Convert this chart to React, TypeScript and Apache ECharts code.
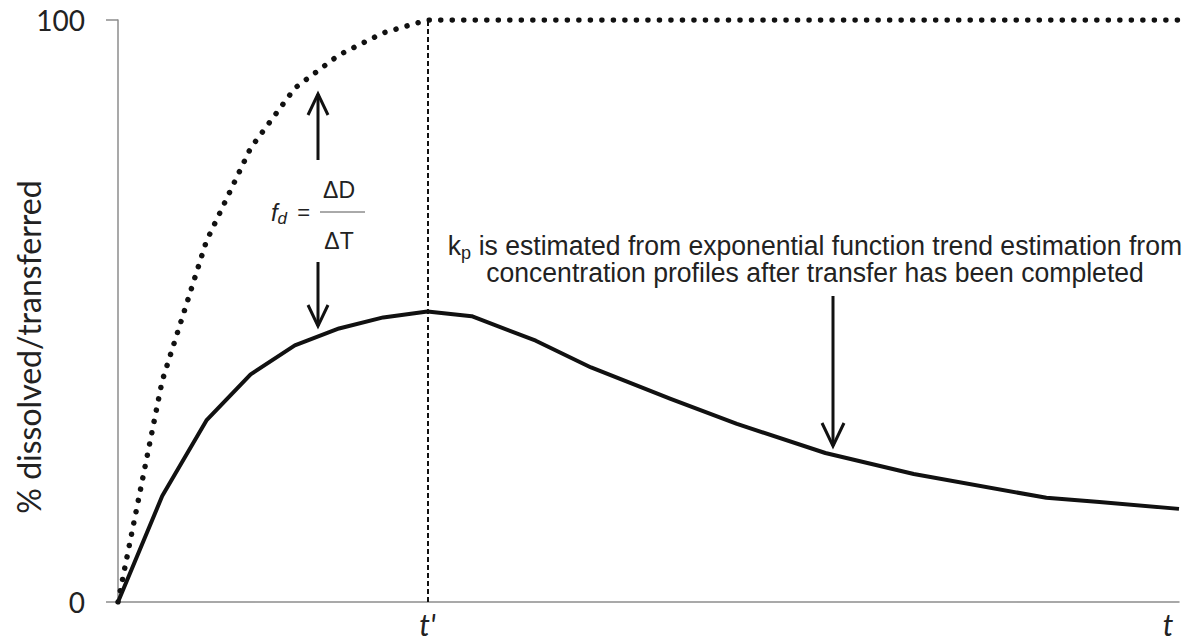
import React, { useEffect, useRef } from "react";
import * as echarts from "echarts";

// Time points and % values for the concentration profile (solid curve)
const profileTimes = [0, 1, 2, 3, 4, 5, 6, 7, 8, 9.45, 10.7, 12.5, 14, 16, 18, 21, 22.2, 24];
const profileValues = [0, 18.2, 31.2, 39.1, 44.1, 47.0, 48.9, 49.9, 49.1, 44.9, 40.3, 34.9, 30.6, 25.6, 22.0, 17.9, 17.2, 16.0];

// Time points and % dissolved (dotted curve)
const dissolvedTimes = [0, 1, 2, 3, 4, 5, 6, 7, 24];
const dissolvedValues = [0, 38, 62, 78, 88.3, 94, 97.8, 100, 100];

// Time at which transfer is complete, and the end of the time axis
const tPrime = 7;
const tEnd = 23.75;
const xMax = 24;
const yTicks = [0, 100];

const axisFont = "Lato, 'Open Sans', sans-serif";
const noteFont = "'Liberation Sans', Arial, sans-serif";
const formulaFont = "'Liberation Sans', Arial, sans-serif";

export default function App() {
  const ref = useRef<HTMLDivElement>(null);

  useEffect(() => {
    document.body.style.margin = "0";
    if (!ref.current) return;
    const chart = echarts.init(ref.current, undefined, { renderer: "svg" });

    const profile = profileTimes.map((t, i) => [t, profileValues[i]]);
    const dissolved = dissolvedTimes.map((t, i) => [t, dissolvedValues[i]]);

    const arrowStyle = { stroke: "#111", lineWidth: 3, fill: "none", lineCap: "butt", lineJoin: "miter" };

    chart.setOption({
      animation: false,
      backgroundColor: "#ffffff",
      grid: { left: 118, right: 12, top: 20, bottom: 42, containLabel: false },
      xAxis: {
        type: "value",
        min: 0,
        max: xMax,
        splitLine: { show: false },
        axisLine: { show: true, lineStyle: { color: "#8c8c8c", width: 1.5 } },
        axisTick: { show: false },
        axisLabel: {
          customValues: [tPrime, tEnd],
          formatter: (v: number) => (v === tPrime ? "t'" : "t"),
          fontFamily: axisFont,
          fontStyle: "italic",
          fontSize: 30,
          color: "#222",
          margin: 7,
        },
      },
      yAxis: {
        type: "value",
        min: yTicks[0],
        max: yTicks[1],
        interval: 100,
        splitLine: { show: false },
        axisLine: { show: true, lineStyle: { color: "#8c8c8c", width: 1.5 } },
        axisTick: { show: true, length: 12, lineStyle: { color: "#8c8c8c", width: 1.5 } },
        axisLabel: {
          fontFamily: axisFont,
          fontSize: 28,
          color: "#222",
          margin: 33,
          padding: [6, 0, 0, 0],
        },
      },
      series: [
        {
          type: "line",
          name: "dissolved",
          data: dissolved,
          symbol: "none",
          lineStyle: { color: "#111", width: 5.5, type: [0.01, 11.5], cap: "round" },
          markLine: {
            symbol: "none",
            silent: true,
            label: { show: false },
            lineStyle: { color: "#111", width: 2, type: [5, 3] },
            data: [[{ coord: [tPrime, 0] }, { coord: [tPrime, 100] }]],
          },
          z: 2,
        },
        {
          type: "line",
          name: "transferred",
          data: profile,
          symbol: "none",
          lineStyle: { color: "#111", width: 4, join: "round" },
          z: 3,
        },
      ],
      graphic: [
        {
          type: "text",
          x: 28,
          y: 347,
          rotation: Math.PI / 2,
          style: {
            text: "% dissolved/transferred",
            x: 0,
            y: 0,
            fontFamily: axisFont,
            fontSize: 32,
            fill: "#222",
            align: "center",
            verticalAlign: "middle",
          },
        },
        // fd arrows
        { type: "line", shape: { x1: 318, y1: 160, x2: 318, y2: 94 }, style: arrowStyle },
        { type: "polyline", shape: { points: [[308, 115], [318, 94], [328, 115]] }, style: arrowStyle },
        { type: "line", shape: { x1: 318, y1: 262, x2: 318, y2: 326 }, style: arrowStyle },
        { type: "polyline", shape: { points: [[308, 305], [318, 326], [328, 305]] }, style: arrowStyle },
        // fd formula
        {
          type: "text",
          x: 310,
          y: 212,
          style: {
            text: "{f|f}{d|d} =",
            align: "right",
            verticalAlign: "middle",
            fontFamily: formulaFont,
            fontSize: 22,
            fill: "#222",
            rich: {
              f: { fontFamily: formulaFont, fontSize: 24, fontStyle: "italic", fill: "#222" },
              d: { fontFamily: formulaFont, fontSize: 17, fontStyle: "italic", fill: "#222", padding: [12, 4, 0, 0] },
            },
          },
        },
        {
          type: "text",
          x: 339,
          y: 190,
          style: { text: "ΔD", align: "center", verticalAlign: "middle", fontFamily: formulaFont, fontSize: 23, fill: "#222" },
        },
        { type: "line", shape: { x1: 320, y1: 212, x2: 365, y2: 212 }, style: { stroke: "#555", lineWidth: 1 } },
        {
          type: "text",
          x: 339,
          y: 241,
          style: { text: "ΔT", align: "center", verticalAlign: "middle", fontFamily: formulaFont, fontSize: 23, fill: "#222" },
        },
        // kp note
        {
          type: "text",
          x: 815,
          y: 245,
          scaleX: 0.95,
          style: {
            text: "k{p|p} is estimated from exponential function trend estimation from",
            align: "center",
            verticalAlign: "middle",
            fontFamily: noteFont,
            fontSize: 28,
            fill: "#222",
            rich: {
              p: { fontFamily: noteFont, fontSize: 19, fill: "#222", padding: [14, 0, 0, 0] },
            },
          },
        },
        {
          type: "text",
          x: 815,
          y: 272,
          scaleX: 0.95,
          style: {
            text: "concentration profiles after transfer has been completed",
            align: "center",
            verticalAlign: "middle",
            fontFamily: noteFont,
            fontSize: 28,
            fill: "#222",
          },
        },
        { type: "line", shape: { x1: 833, y1: 296, x2: 833, y2: 446 }, style: arrowStyle },
        { type: "polyline", shape: { points: [[822, 423], [833, 446], [844, 423]] }, style: arrowStyle },
      ],
    });

    return () => {
      chart.dispose();
    };
  }, []);

  return (
    <div
      ref={ref}
      style={{ position: "absolute", left: 0, top: 0, width: 1191, height: 644, background: "#fff" }}
    />
  );
}
